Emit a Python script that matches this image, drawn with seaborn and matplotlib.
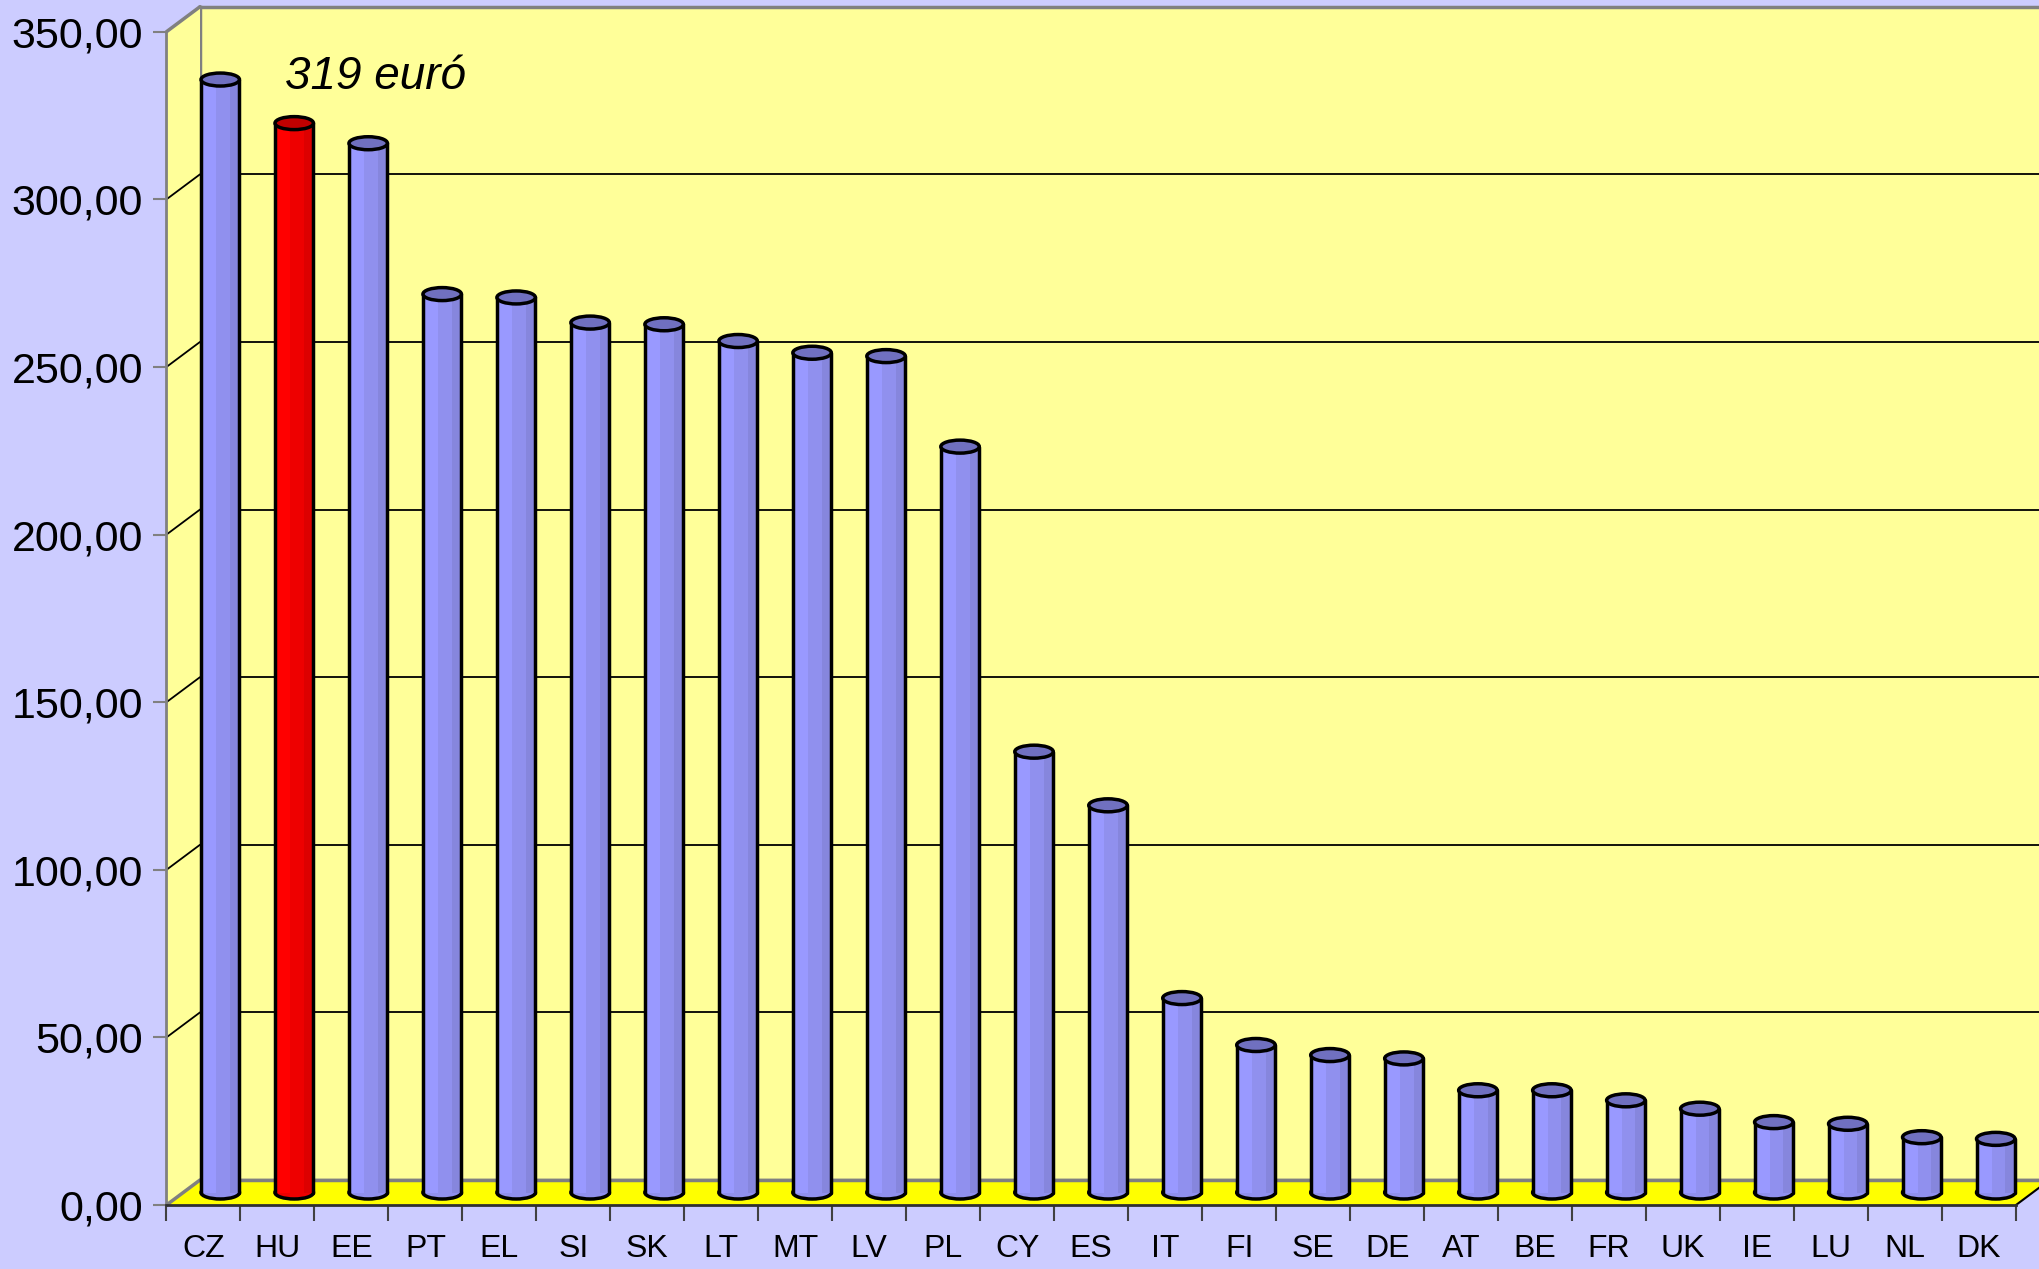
import matplotlib
matplotlib.use("Agg")
import matplotlib.pyplot as plt
import numpy as np
import pandas as pd
import seaborn as sns
from matplotlib.lines import Line2D
from matplotlib.patches import Ellipse, Polygon, Rectangle

# data
countries = ["CZ", "HU", "EE", "PT", "EL", "SI", "SK", "LT", "MT", "LV", "PL", "CY", "ES",
             "IT", "FI", "SE", "DE", "AT", "BE", "FR", "UK", "IE", "LU", "NL", "DK"]
values = [332, 319, 313, 268, 267, 259.5, 259, 254, 250.5, 249.5, 222.5, 131.5, 115.5,
          58, 44, 41, 40, 30.5, 30.5, 27.5, 25, 21, 20.5, 16.5, 16]
highlight = "HU"
yticks = [0, 50, 100, 150, 200, 250, 300, 350]
ytick_labels = ["0,00", "50,00", "100,00", "150,00", "200,00", "250,00", "300,00", "350,00"]
annotation = "319 euró"

sns.set_theme(style="white")
plt.rcParams["font.family"] = ["Liberation Sans", "DejaVu Sans"]
plt.rcParams["text.color"] = "black"

W, H = 2040, 1269
fig = plt.figure(figsize=(W / 100, H / 100), dpi=100, facecolor="#CCCCFF")

# front box in pixels (from top-left), plus 3d depth offset
x0, x1, base, top = 166.5, 2016, 1205, 31.7
dx, dy = 33.5, 25
k = (base - top) / 350


def rect(xa, yb, xb, yt):
    return [xa / W, 1 - yb / H, (xb - xa) / W, (yb - yt) / H]


def fpt(x, y):
    return (x / W, 1 - y / H)


n = len(countries)

# back wall
ax_back = fig.add_axes(rect(x0 + dx, base - dy, x1 + dx, top - dy), zorder=0)
ax_back.set_facecolor("#FFFF99")
ax_back.set_xlim(-0.5, n - 0.5)
ax_back.set_ylim(0, 350)
ax_back.set_yticks(yticks)
ax_back.set_xticks([])
ax_back.tick_params(left=False, labelleft=False)
ax_back.grid(axis="y", color="black", lw=1.3)
for s in ["left", "top", "bottom"]:
    ax_back.spines[s].set_color("#808080")
    ax_back.spines[s].set_linewidth(2.5)
ax_back.spines["right"].set_visible(False)

# floor and left side wall
floor = Polygon([fpt(x0, base), fpt(x1, base), fpt(x1 + dx, base - dy), fpt(x0 + dx, base - dy)],
                closed=True, transform=fig.transFigure, fc="#FFFF00", ec="none", zorder=0.5)
fig.patches.append(floor)
wall = Polygon([fpt(x0, base), fpt(x0 + dx, base - dy), fpt(x0 + dx, top - dy), fpt(x0, top)],
               closed=True, transform=fig.transFigure, fc="#FFFF99", ec="none", zorder=0.5)
fig.patches.append(wall)

edges = [
    ((x0 + dx, base - dy), (x1 + dx, base - dy), "#808080", 2.5),
    ((x1, base), (x1 + dx, base - dy), "black", 1.5),
    ((x0, base), (x0 + dx, base - dy), "#808080", 2.5),
    ((x0, top), (x0 + dx, top - dy), "#808080", 2.5),
]
for v in yticks[1:-1]:
    edges.append(((x0, base - v * k), (x0 + dx, base - dy - v * k), "black", 1.3))
for a, b, c, lw in edges:
    pa, pb = fpt(*a), fpt(*b)
    fig.lines.append(Line2D([pa[0], pb[0]], [pa[1], pb[1]], transform=fig.transFigure,
                            color=c, lw=lw, zorder=0.6))

# bars at mid depth
ax_mid = fig.add_axes(rect(x0 + dx / 2, base - dy / 2, x1 + dx / 2, top - dy / 2), zorder=1)
ax_mid.set_facecolor("none")

df = pd.DataFrame({"country": countries, "value": values})
palette = {c: ("#FF0000" if c == highlight else "#9999FF") for c in countries}
sns.barplot(data=df, x="country", y="value", hue="country", palette=palette, width=0.52,
            saturation=1, edgecolor="none", legend=False, ax=ax_mid)
ax_mid.set_xlim(-0.5, n - 0.5)
ax_mid.set_ylim(0, 350)
ax_mid.axis("off")

eh = 13 / k
lw_bar = 2.5
for p, c in zip(ax_mid.patches, countries):
    x, w, h = p.get_x(), p.get_width(), p.get_height()
    if c == highlight:
        light, mid, dark, cap = "#FF0000", "#EE0000", "#DD0000", "#C00000"
    else:
        light, mid, dark, cap = "#9999FF", "#9090EE", "#8686DD", "#7070C0"
    p.set_zorder(2)
    p.set_clip_on(False)
    ax_mid.add_patch(Rectangle((x + 0.4 * w, 0), 0.35 * w, h, fc=mid, ec="none",
                               zorder=2.1, clip_on=False))
    ax_mid.add_patch(Rectangle((x + 0.75 * w, 0), 0.25 * w, h, fc=dark, ec="none",
                               zorder=2.2, clip_on=False))
    ax_mid.add_patch(Ellipse((x + w / 2, 0), w, eh, fc=mid, ec="black", lw=lw_bar,
                             zorder=1.5, clip_on=False))
    ax_mid.plot([x, x], [0, h], color="black", lw=lw_bar, zorder=3, clip_on=False)
    ax_mid.plot([x + w, x + w], [0, h], color="black", lw=lw_bar, zorder=3, clip_on=False)
    ax_mid.add_patch(Ellipse((x + w / 2, h), w, eh, fc=cap, ec="black", lw=lw_bar,
                             zorder=4, clip_on=False))

# front axes: spines, ticks, labels
ax = fig.add_axes(rect(x0, base, x1, top), zorder=2)
ax.set_facecolor("none")
ax.set_xlim(-0.5, n - 0.5)
ax.set_ylim(0, 350)
ax.set_yticks(yticks, ytick_labels)
ax.set_xticks(range(n), countries)
ax.set_xticks(np.arange(-0.5, n, 1), minor=True)
ax.tick_params(axis="y", length=9.7, width=1.5, color="#808080", pad=7.2,
               labelsize=31, labelcolor="black", left=True)
ax.tick_params(axis="x", which="major", length=0, pad=21, labelsize=23,
               labelcolor="black", bottom=True)
ax.tick_params(axis="x", which="minor", length=11.5, width=1.5, color="#404040", bottom=True)
ax.spines["left"].set_color("#808080")
ax.spines["left"].set_linewidth(2)
ax.spines["bottom"].set_color("#303030")
ax.spines["bottom"].set_linewidth(2)
ax.spines["top"].set_visible(False)
ax.spines["right"].set_visible(False)

fig.text(285 / W, 1 - 89 / H, annotation, ha="left", va="baseline", fontsize=33,
         style="italic", color="black")

fig.savefig("out.png", dpi=100, facecolor=fig.get_facecolor())
